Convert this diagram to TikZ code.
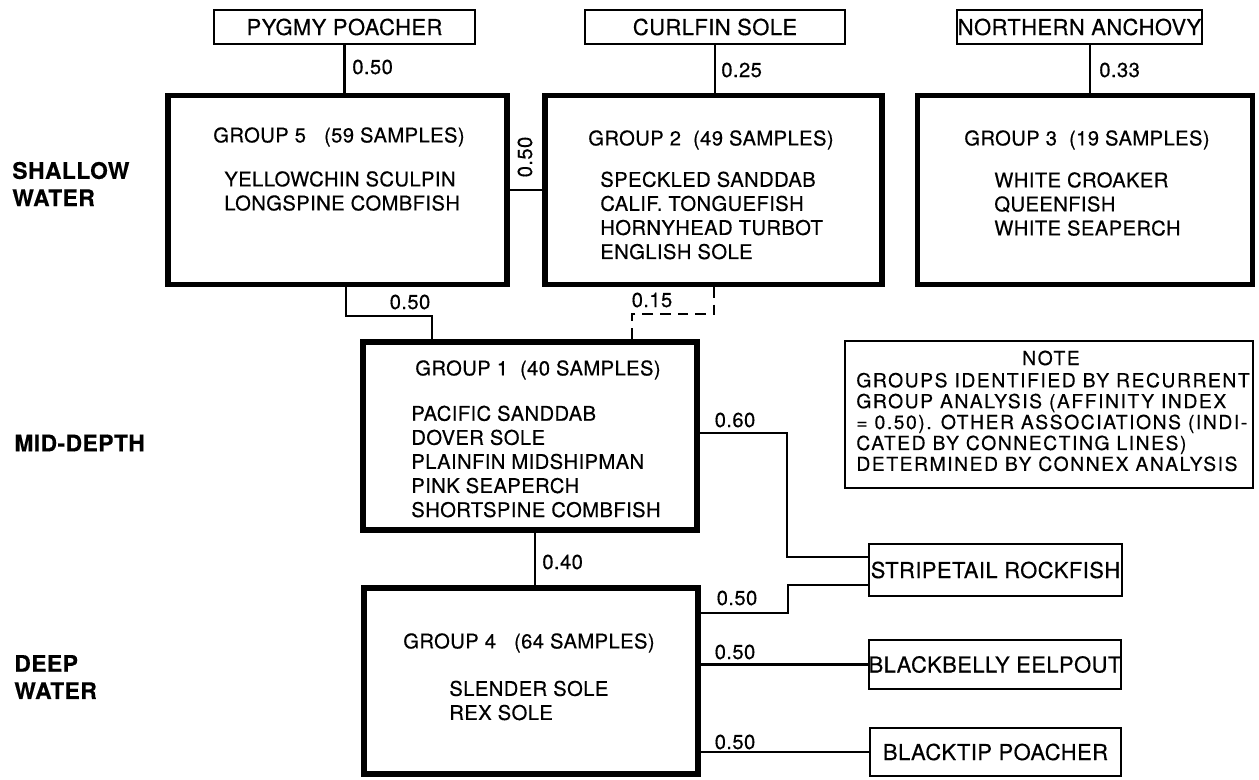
\documentclass[tikz,border=0pt]{standalone}
\usepackage{fontspec}
\setmainfont{TeX Gyre Heros}[LetterSpace=2, FakeBold=0.4]
\newfontfamily\notefont{TeX Gyre Heros}[LetterSpace=8, FakeBold=0.4]
\usetikzlibrary{positioning}

\begin{document}
\begin{tikzpicture}[x=0.02cm, y=-0.02cm,
    grp/.style={draw, line width=3pt, inner sep=0pt, minimum width=6.74cm, minimum height=3.78cm},
    tag/.style={draw, line width=1.2pt, inner sep=0pt, font=\fontsize{12.5}{15}\selectfont},
    link/.style={line width=1.6pt},
    val/.style={font=\fontsize{11.5}{14}\selectfont, inner sep=0pt},
    txt/.style={font=\fontsize{11.5}{13.7}\selectfont, align=left, inner sep=0pt},
    zone/.style={font=\bfseries\fontsize{13}{15.5}\selectfont, align=left, inner sep=0pt, anchor=west}]
    \useasboundingbox (0,0) rectangle (1259,779);

    % depth zones
    \node[zone] (shallow) at (12,184) {SHALLOW\\WATER};
    \node[zone] (mid) at (14,443) {MID-DEPTH};
    \node[zone] (deep) at (14,677) {DEEP\\WATER};

    % single species on top
    \node[tag, minimum width=5.22cm, minimum height=0.68cm] (pygmy) at (344.5,27) {PYGMY POACHER};
    \node[tag, minimum width=5.2cm, minimum height=0.68cm] (curlfin) at (715,27) {CURLFIN SOLE};
    \node[tag, minimum width=4.9cm, minimum height=0.68cm] (northern) at (1079.5,27) {NORTHERN ANCHOVY};

    % group boxes
    \node[grp, minimum width=6.78cm] (g5) at (337.5,190) {};
    \node[grp] (g2) at (713.5,190) {};
    \node[grp, minimum width=6.7cm] (g3) at (1085,190) {};
    \node[grp, minimum width=6.68cm, minimum height=3.76cm] (g1) at (530,436) {};
    \node[grp, minimum width=6.68cm, minimum height=3.72cm] (g4) at (531,681) {};

    % group contents
    \node[txt] (t5) at (339,137) {GROUP 5\ \ \ (59 SAMPLES)};
    \node[txt, anchor=west] (s5) at (224,191) {YELLOWCHIN SCULPIN\\LONGSPINE COMBFISH};
    \node[txt] (t2) at (711,140) {GROUP 2\ \ (49 SAMPLES)};
    \node[txt, anchor=west] (s2) at (600,215.5) {SPECKLED SANDDAB\\CALIF. TONGUEFISH\\HORNYHEAD TURBOT\\ENGLISH SOLE};
    \node[txt] (t3) at (1087,140) {GROUP 3\ \ (19 SAMPLES)};
    \node[txt, anchor=west] (s3) at (994,204) {WHITE CROAKER\\QUEENFISH\\WHITE SEAPERCH};
    \node[txt] (t1) at (538,370) {GROUP 1\ \ (40 SAMPLES)};
    \node[txt, anchor=west] (s1) at (411,461.5) {PACIFIC SANDDAB\\DOVER SOLE\\PLAINFIN MIDSHIPMAN\\PINK SEAPERCH\\SHORTSPINE COMBFISH};
    \node[txt] (t4) at (529,643) {GROUP 4\ \ \ (64 SAMPLES)};
    \node[txt, anchor=west] (s4) at (449,700.5) {SLENDER SOLE\\REX SOLE};

    % note
    \node[draw, line width=1.6pt, minimum width=8.16cm, minimum height=2.94cm] (note) at (1049,414.5) {};
    \node[txt, font=\notefont\fontsize{11}{11.9}\selectfont] (notehead) at (1051,358) {NOTE};
    \node[txt, anchor=west, font=\notefont\fontsize{11}{11.9}\selectfont] (notebody) at (856,422)
        {GROUPS IDENTIFIED BY RECURRENT\\GROUP ANALYSIS (AFFINITY INDEX\\= 0.50). OTHER ASSOCIATIONS (INDI-\\CATED BY CONNECTING LINES)\\DETERMINED BY CONNEX ANALYSIS};

    % deep species on the right
    \node[tag, minimum width=5.06cm, minimum height=1.04cm] (stripetail) at (995.5,570) {STRIPETAIL ROCKFISH};
    \node[tag, minimum width=5.04cm, minimum height=0.98cm] (blackbelly) at (995,664.5) {BLACKBELLY EELPOUT};
    \node[tag, minimum width=5.02cm, minimum height=0.96cm] (blacktip) at (995.5,752) {BLACKTIP POACHER};

    % bends
    \coordinate (j52) at (525,190);
    \coordinate (b51) at (346,316);
    \coordinate (b15) at (432,316);
    \coordinate (b21) at (714,314);
    \coordinate (b12) at (632,314);
    \coordinate (b14) at (535,560);
    \coordinate (b3n) at (1090,60);
    \coordinate (b1s) at (787,433);
    \coordinate (e1s) at (787,557);
    \coordinate (b4s) at (788,613);
    \coordinate (e4s) at (788,585);

    % connections
    \draw[link] (pygmy) -- (pygmy |- g5.north);
    \draw[link] (curlfin) -- (curlfin |- g2.north);
    \draw[link] (northern.south -| b3n) -- (g3.north -| b3n);
    \draw[link] (g5.east |- j52) -- (g2.west |- j52);
    \draw[link] (g5.south -| b51) -- (b51) -- (b15) -- (g1.north -| b15);
    \draw[link, dash pattern=on 6pt off 4pt] (g2.south -| b21) -- (b21) -- (b12) -- (g1.north -| b12);
    \draw[link] (g1.south -| b14) -- (g4.north -| b14);
    \draw[link] (g1.east |- b1s) -- (b1s) -- (e1s) -- (stripetail.west |- e1s);
    \draw[link] (g4.east |- b4s) -- (b4s) -- (e4s) -- (stripetail.west |- e4s);
    \draw[link] (g4.east |- blackbelly.west) -- (blackbelly.west);
    \draw[link] (g4.east |- blacktip.west) -- (blacktip.west);

    % affinity values
    \node[val, anchor=west] (v5p) at (352,67) {0.50};
    \node[val, anchor=west] (v2c) at (721,70) {0.25};
    \node[val, anchor=west] (v3n) at (1099,70) {0.33};
    \node[val, rotate=90] (v52) at (525,157) {0.50};
    \node[val] (v51) at (410,302) {0.50};
    \node[val] (v21) at (652,300) {0.15};
    \node[val, anchor=west] (v14) at (542,562) {0.40};
    \node[val] (v1s) at (735,420) {0.60};
    \node[val] (v4s) at (737,598) {0.50};
    \node[val] (v4b) at (735,652) {0.50};
    \node[val] (v4t) at (735,742) {0.50};
\end{tikzpicture}
\end{document}
